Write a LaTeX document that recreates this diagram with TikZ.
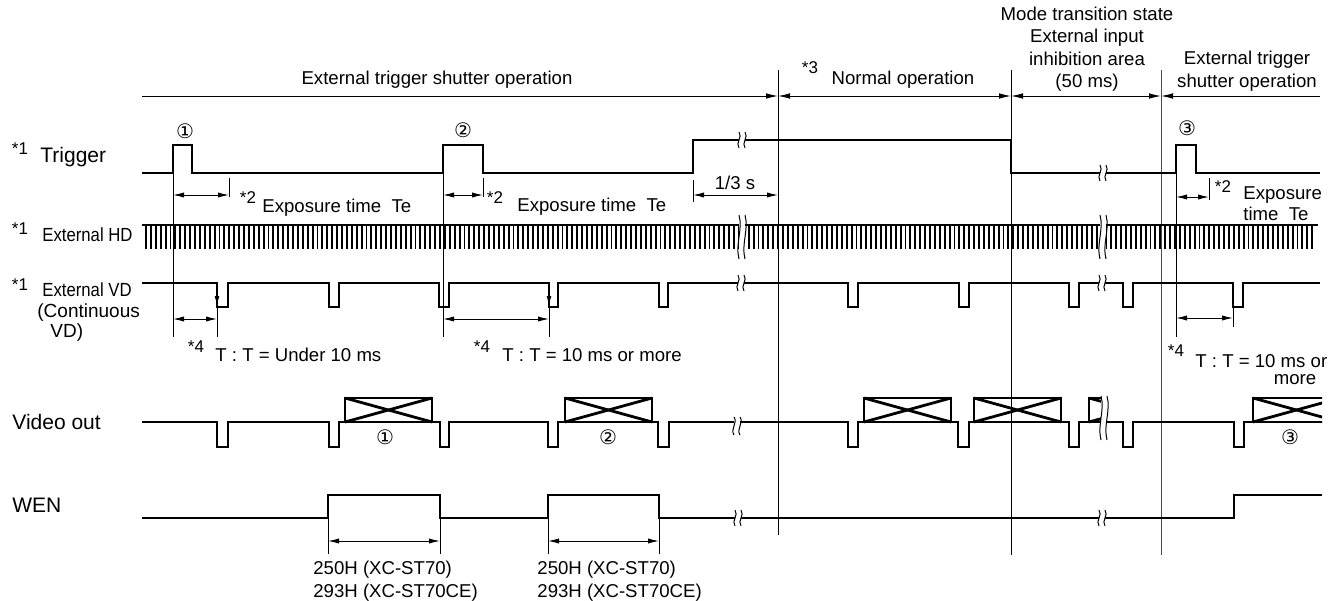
\documentclass[tikz,border=0pt]{standalone}
\usepackage{fontspec}
\setmainfont{Liberation Sans}
\newfontfamily\circfont{DejaVu Sans}
\usetikzlibrary{arrows.meta}
\newcommand\brk[3]{%
 \fill[white] (#1-3,#2-#3) rectangle (#1+3,#2+#3);
 \draw[thinln] (#1-3,#2-#3) .. controls (#1+1,#2-#3/3) and (#1-7,#2+#3/3) .. (#1-3,#2+#3);
 \draw[thinln] (#1+3,#2-#3) .. controls (#1+7,#2-#3/3) and (#1-1,#2+#3/3) .. (#1+3,#2+#3);
}
\newcommand\xbx[2]{%
 \draw[xboxln] (#1,398) rectangle (#2,422);
 \draw[xboxln] (#1,398) -- (#2,422);
 \draw[xboxln] (#1,422) -- (#2,398);
}
\begin{document}
\begin{tikzpicture}[x=0.5pt,y=-0.5pt,
  sig/.style={line width=1pt, line join=miter},
  thinln/.style={line width=0.5pt},
  dim/.style={line width=0.5pt, {Latex[length=5.5pt,width=2.6pt]}-{Latex[length=5.5pt,width=2.6pt]}},
  txt/.style={inner sep=0pt, font=\fontsize{9.3}{11.2}\selectfont},
  lbl/.style={inner sep=0pt, anchor=west, font=\fontsize{10.5}{12}\selectfont},
  nar/.style={inner sep=0pt, anchor=west, font=\fontsize{9.5}{11}\selectfont},
  star/.style={inner sep=0pt, font=\fontsize{8.5}{9}\selectfont},
  circ/.style={inner sep=0pt, font=\circfont\fontsize{10}{10}\selectfont},
  xboxln/.style={line width=1.4pt},
]
\useasboundingbox (0,0) rectangle (1337,600);

% ---------- header ----------
\draw[thinln, -{Latex[length=6pt,width=2.8pt]}] (142,96) -- (778,96);
\draw[thinln, {Latex[length=6pt,width=2.8pt]}-{Latex[length=6pt,width=2.8pt]}] (778,96) -- (1011,96);
\draw[thinln, {Latex[length=6pt,width=2.8pt]}-{Latex[length=6pt,width=2.8pt]}] (1011,96) -- (1161,96);
\draw[thinln, {Latex[length=6pt,width=2.8pt]}-] (1161,96) -- (1320,96);
\node[txt] (h1) at (437,80) {External trigger shutter operation};
\node[star] (s3) at (810,68) {*3};
\node[txt] (h2) at (903,80) {Normal operation};
\node[txt, align=center] (h3) at (1087,49) {Mode transition state\\External input\\inhibition area\\(50 ms)};
\node[txt, align=center] (h4) at (1247,71) {External trigger\\shutter operation};

% vertical boundaries
\draw[thinln] (778,70) -- (778,535);
\draw[thinln] (1011,70) -- (1011,555);
\draw[thinln, black!70] (1161,70) -- (1161,555);

% ---------- labels ----------
\node[star] (s1a) at (20,149) {*1};
\node[lbl] (ltrig) at (40,157) {Trigger};
\node[star] (s1b) at (20,229) {*1};
\node[nar] (lhd) at (42,235) {\scalebox{0.88}[1]{External HD}};
\node[star] (s1c) at (20,285) {*1};
\node[nar] (lvd) at (42,290) {\scalebox{0.88}[1]{External VD}};
\node[nar] (lcont) at (37,313) {(Continuous};
\node[nar] (lvd2) at (50,333) {VD)};
\node[lbl] (lvid) at (12,422) {Video out};
\node[lbl] (lwen) at (12,505) {WEN};

% ---------- Trigger ----------
\draw[sig] (142,173) -- (173,173) -- (173,145) -- (192,145) -- (192,173) -- (443,173) -- (443,145) -- (483,145) -- (483,173) -- (693,173) -- (693,140) -- (1011,140) -- (1011,173) -- (1176,173) -- (1176,145) -- (1196,145) -- (1196,173) -- (1320,173);
\brk{742}{140}{8}
\brk{1103}{173}{8}
\node[circ] (c1) at (185,131) {①};
\node[circ] (c2) at (463,130) {②};
\node[circ] (c3) at (1187,128) {③};

% exposure dims
\draw[thinln] (173,173) -- (173,337);
\draw[thinln] (443,173) -- (443,337);
\draw[thinln] (1176,173) -- (1176,337);
\draw[thinln] (229,178) -- (229,197);
\draw[thinln] (483,178) -- (483,197);
\draw[thinln] (693,180) -- (693,202);
\draw[thinln] (1209,178) -- (1209,200);
\draw[dim] (173,195) -- (229,195);
\draw[dim] (443,195) -- (483,195);
\draw[dim] (693,195) -- (778,195);
\draw[dim] (1176,197) -- (1209,197);
\node[star] (s2a) at (248,198) {*2};
\node[txt, anchor=west] (e1) at (262,208) {Exposure time\ \ Te};
\node[star] (s2b) at (495,198) {*2};
\node[txt, anchor=west] (e2) at (517,207) {Exposure time\ \ Te};
\node[txt] (third) at (735,183) {1/3 s};
\node[star] (s2c) at (1223,187) {*2};
\node[txt, anchor=west] (e3a) at (1243,195) {Exposure};
\node[txt, anchor=west] (e3b) at (1243,214) {time\ \ Te};

% ---------- External HD ----------
\foreach \i in {0,...,238} { \draw[line width=0.95pt] ({146+4.9*\i},225) -- ({146+4.9*\i},249); }
\draw[line width=0.8pt] (142,225) -- (1318,225);
\brk{742}{237}{22}
\brk{1103}{237}{22}

% ---------- External VD ----------
\draw[sig] (142,283)
  -- (217,283) -- (217,307) -- (228,307) -- (228,283)
  -- (329,283) -- (329,307) -- (339,307) -- (339,283)
  -- (439,283) -- (439,307) -- (449,307) -- (449,283)
  -- (549,283) -- (549,307) -- (558,307) -- (558,283)
  -- (659,283) -- (659,307) -- (668,307) -- (668,283)
  -- (848,283) -- (848,307) -- (858,307) -- (858,283)
  -- (959,283) -- (959,307) -- (969,307) -- (969,283)
  -- (1069,283) -- (1069,307) -- (1079,307) -- (1079,283)
  -- (1123,283) -- (1123,307) -- (1133,307) -- (1133,283)
  -- (1233,283) -- (1233,307) -- (1243,307) -- (1243,283)
  -- (1320,283);
\brk{741}{283}{8}
\brk{1102}{283}{8}
\draw[thinln, -{Latex[length=5pt,width=2.4pt]}] (217,283) -- (217,306);
\draw[thinln, -{Latex[length=5pt,width=2.4pt]}] (549,283) -- (549,306);
\draw[thinln] (217,307) -- (217,337);
\draw[thinln] (549,307) -- (549,337);
\draw[thinln] (1233,307) -- (1233,327);
\draw[dim] (173,319) -- (217,319);
\draw[dim] (443,319) -- (549,319);
\draw[dim] (1176,318) -- (1233,318);
\node[star] (s4a) at (196,347) {*4};
\node[txt, anchor=west] (t1) at (215,355) {T : T = Under 10 ms};
\node[star] (s4b) at (482,347) {*4};
\node[txt, anchor=west] (t2) at (502,355) {T : T = 10 ms or more};
\node[star] (s4c) at (1176,351) {*4};
\node[txt, anchor=west] (t3) at (1195,361) {T : T = 10 ms or};
\node[txt] (t3b) at (1295,380) {more};

% ---------- Video out ----------
\draw[sig] (142,422)
  -- (217,422) -- (217,447) -- (228,447) -- (228,422)
  -- (329,422) -- (329,447) -- (339,447) -- (339,422)
  -- (440,422) -- (440,447) -- (449,447) -- (449,422)
  -- (548,422) -- (548,447) -- (558,447) -- (558,422)
  -- (658,422) -- (658,447) -- (669,447) -- (669,422)
  -- (848,422) -- (848,447) -- (858,447) -- (858,422)
  -- (958,422) -- (958,447) -- (969,447) -- (969,422)
  -- (1069,422) -- (1069,447) -- (1079,447) -- (1079,422)
  -- (1123,422) -- (1123,447) -- (1133,447) -- (1133,422)
  -- (1234,422) -- (1234,447) -- (1244,447) -- (1244,422)
  -- (1322,422);
\xbx{345}{432}
\xbx{565}{652}
\xbx{864}{951}
\xbx{974}{1061}
\begin{scope}
  \clip (1080,390) rectangle (1101,430);
  \xbx{1089}{1176}
\end{scope}
\begin{scope}
  \clip (1245,390) rectangle (1322,430);
  \xbx{1253}{1340}
\end{scope}
\brk{737}{426}{9}
\brk{1104}{418}{22}
\node[circ] (v1) at (385,437) {①};
\node[circ] (v2) at (608,437) {②};
\node[circ] (v3) at (1290,437) {③};

% ---------- WEN ----------
\draw[sig] (142,518) -- (328,518) -- (328,495) -- (440,495) -- (440,518) -- (548,518) -- (548,495) -- (659,495) -- (659,518) -- (1234,518) -- (1234,495) -- (1322,495);
\brk{738}{518}{8}
\brk{1102}{518}{8}
\draw[thinln] (328,518) -- (328,554);
\draw[thinln] (440,518) -- (440,554);
\draw[thinln] (548,518) -- (548,554);
\draw[thinln] (659,518) -- (659,554);
\draw[dim] (328,541) -- (440,541);
\draw[dim] (548,541) -- (659,541);
\node[txt, anchor=west, align=left] (w1) at (313,581) {250H (XC-ST70)\\293H (XC-ST70CE)};
\node[txt, anchor=west, align=left] (w2) at (537,581) {250H (XC-ST70)\\293H (XC-ST70CE)};
\end{tikzpicture}
\end{document}
